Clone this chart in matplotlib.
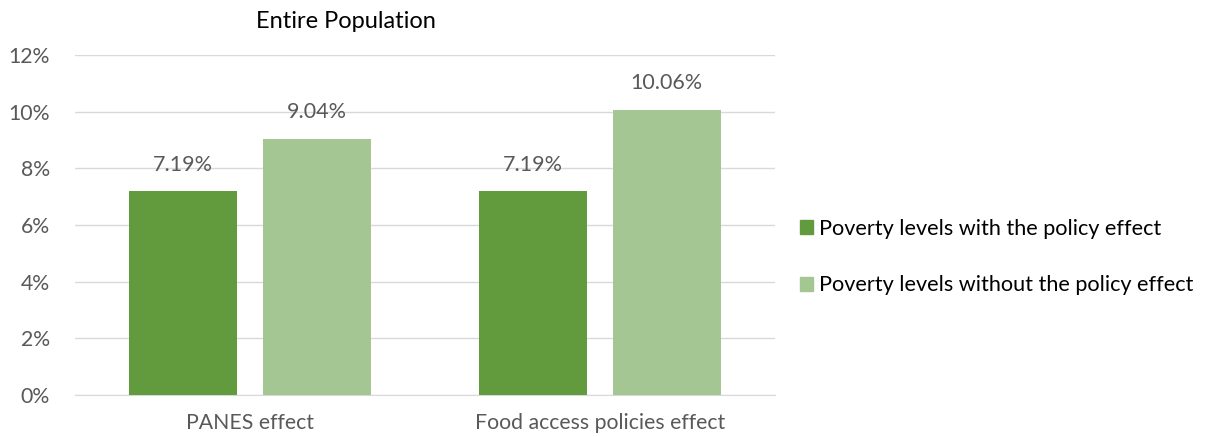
import matplotlib
matplotlib.use("Agg")
import matplotlib.pyplot as plt
from matplotlib.patches import Patch

plt.rcParams['font.family'] = ['Lato', 'DejaVu Sans']

categories = ["PANES effect", "Food access policies effect"]
with_policy = [7.19, 7.19]
without_policy = [9.04, 10.06]
series_names = ["Poverty levels with the policy effect",
                "Poverty levels without the policy effect"]
yticks = [0, 2, 4, 6, 8, 10, 12]

c_dark = "#629B3E"
c_light = "#A4C693"
txt = "#595959"

fig = plt.figure(figsize=(12.08, 4.37), dpi=100)
ax = fig.add_axes([75/1208, 42/437, 700/1208, 340/437])

w = 0.309
off = 0.191
xs = list(range(len(categories)))
b1 = ax.bar([x - off for x in xs], with_policy, width=w, color=c_dark, zorder=3)
b2 = ax.bar([x + off for x in xs], without_policy, width=w, color=c_light, zorder=3)

for bars, vals in ((b1, with_policy), (b2, without_policy)):
    for b, v in zip(bars, vals):
        ax.annotate(f"{v:.2f}%", (b.get_x() + b.get_width()/2, v),
                    xytext=(0, 12), textcoords="offset points",
                    ha="center", va="bottom", fontsize=15.5, color=txt)

ax.set_xlim(-0.5, 1.5)
ax.set_ylim(0, 12)
ax.set_yticks(yticks)
ax.set_yticklabels([f"{t}%" for t in yticks])
ax.set_xticks(xs)
ax.set_xticklabels(categories)
ax.tick_params(axis='both', length=0, labelsize=15.3, colors=txt)
ax.tick_params(axis='x', pad=13)
ax.tick_params(axis='y', pad=18)
ax.grid(axis='y', color="#D9D9D9", linewidth=1, zorder=0)
for s in ("top", "right", "left"):
    ax.spines[s].set_visible(False)
ax.spines["bottom"].set_color("#D9D9D9")

fig.text(346/1208, 1 - 22/437, "Entire Population", ha="center", va="center",
         fontsize=17, color="black")

handles = [Patch(color=c_dark), Patch(color=c_light)]
leg = fig.legend(handles, series_names, loc="center left",
                 bbox_to_anchor=(789/1208, 1 - 257/437), frameon=False,
                 fontsize=15.6, handlelength=0.6, handleheight=0.6,
                 handletextpad=0.3, labelspacing=1.7, borderpad=0)

fig.savefig("out.png", dpi=100)
